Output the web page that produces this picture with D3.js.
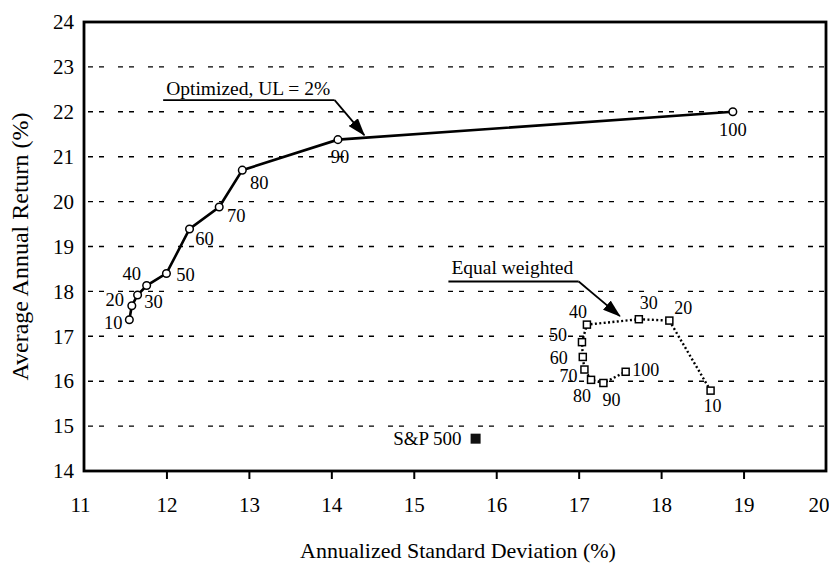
<!DOCTYPE html>
<html>
<head>
<meta charset="utf-8">
<script src="https://cdn.jsdelivr.net/npm/d3@7"></script>
<style>
  html, body { margin: 0; padding: 0; background: #fff; }
  svg { display: block; }
  text { font-family: "Liberation Serif", "DejaVu Serif", serif; fill: #000; }
</style>
</head>
<body>
<svg id="chart" width="829" height="569"></svg>
<script>
// Tick values for both axes
const xTicks = [11, 12, 13, 14, 15, 16, 17, 18, 19, 20];
const yTicks = [14, 15, 16, 17, 18, 19, 20, 21, 22, 23, 24];
const gridValues = [15, 16, 17, 18, 19, 20, 21, 22, 23];

// Portfolio labels (number of stocks held)
const portfolioLabels = [10, 20, 30, 40, 50, 60, 70, 80, 90, 100];

// Optimized portfolios, UL = 2%
const optSD     = [11.55, 11.58, 11.65, 11.76, 12.00, 12.28, 12.64, 12.92, 14.08, 18.87];
const optReturn = [17.37, 17.68, 17.92, 18.13, 18.40, 19.39, 19.88, 20.70, 21.38, 22.00];

// Equal weighted portfolios
const eqSD     = [18.60, 18.10, 17.73, 17.10, 17.04, 17.05, 17.07, 17.15, 17.30, 17.57];
const eqReturn = [15.79, 17.35, 17.38, 17.26, 16.87, 16.54, 16.26, 16.03, 15.96, 16.21];

// Benchmark
const spLabel = "S&P 500";
const spSD = 15.75;
const spReturn = 14.72;

// Label placement around each marker, in pixels
const optLabelOffset = [[-16, 3], [-17, -6], [16, 7], [-15, -12], [19, 2], [15, 10], [17, 9], [17, 13], [2, 17], [0, 18]];
const eqLabelOffset  = [[2, 15], [14, -13], [10, -16], [-9, -13], [-24, -7], [-24, 1], [-16, 6], [-9, 16], [8, 17], [20, -2]];

// Callouts (in data units)
const optNote = { text: "Optimized, UL = 2%", from: [11.96, 22.26], to: [14.04, 22.26], tip: [14.40, 21.48] };
const eqNote  = { text: "Equal weighted", from: [15.42, 18.22], to: [17.00, 18.22], tip: [17.50, 17.45] };

const svg = d3.select("#chart");
const frame = { left: 84, right: 826, top: 22, bottom: 471 };

const x = d3.scaleLinear().domain([11, 20]).range([frame.left, frame.right]);
const y = d3.scaleLinear().domain([14, 24]).range([frame.bottom, frame.top]);

// Arrowhead
svg.append("defs").append("marker")
  .attr("id", "arrow")
  .attr("markerUnits", "userSpaceOnUse")
  .attr("markerWidth", 18).attr("markerHeight", 12)
  .attr("refX", 17).attr("refY", 6)
  .attr("orient", "auto")
  .append("path").attr("d", "M0,0 L18,6 L0,12 Z").attr("fill", "#000");

// Dashed horizontal gridlines
svg.append("g").selectAll("line").data(gridValues).join("line")
  .attr("x1", frame.left + 4).attr("x2", frame.right - 2)
  .attr("y1", d => y(d)).attr("y2", d => y(d))
  .attr("stroke", "#000").attr("stroke-width", 1.4)
  .attr("stroke-dasharray", "5,6,5,14");

// X axis
const xAxis = svg.append("g")
  .attr("transform", `translate(0,${frame.bottom})`)
  .call(d3.axisBottom(x).tickValues(xTicks).tickSize(8).tickPadding(18).tickFormat(d3.format("d")));
xAxis.select(".domain").remove();
xAxis.selectAll(".tick line").attr("stroke", "#000").attr("stroke-width", 2)
  .filter(d => d === 11 || d === 20).remove();
xAxis.selectAll(".tick text")
  .style("font-size", "21px")
  .attr("font-family", null)
  .attr("text-anchor", d => d === 20 ? "end" : "middle")
  .attr("dx", d => d === 20 ? 3 : (d === 11 ? -4 : 0));

// Y axis
const yAxis = svg.append("g")
  .attr("transform", `translate(${frame.left},0)`)
  .call(d3.axisLeft(y).tickValues(yTicks).tickSize(0).tickPadding(10).tickFormat(d3.format("d")));
yAxis.select(".domain").remove();
yAxis.selectAll(".tick text").style("font-size", "21px").attr("font-family", null);

// Plot frame
svg.append("rect")
  .attr("x", frame.left).attr("y", frame.top)
  .attr("width", frame.right - frame.left).attr("height", frame.bottom - frame.top)
  .attr("fill", "none").attr("stroke", "#000").attr("stroke-width", 2.8);

// Axis titles
svg.append("text")
  .attr("x", (frame.left + frame.right) / 2 + 3).attr("y", 558)
  .attr("text-anchor", "middle").style("font-size", "22px")
  .text("Annualized Standard Deviation (%)");
svg.append("text")
  .attr("transform", `translate(28,${(frame.top + frame.bottom) / 2}) rotate(-90)`)
  .attr("text-anchor", "middle").style("font-size", "24px")
  .text("Average Annual Return (%)");

// Optimized line and markers
const optPts = optSD.map((v, i) => ({ sd: v, ret: optReturn[i], label: portfolioLabels[i], off: optLabelOffset[i] }));
const line = d3.line().x(d => x(d.sd)).y(d => y(d.ret));
svg.append("path").datum(optPts).attr("d", line)
  .attr("fill", "none").attr("stroke", "#000").attr("stroke-width", 2.6);
svg.append("g").selectAll("circle").data(optPts).join("circle")
  .attr("cx", d => x(d.sd)).attr("cy", d => y(d.ret)).attr("r", 3.8)
  .attr("fill", "#fff").attr("stroke", "#000").attr("stroke-width", 1.5);
svg.append("g").selectAll("text").data(optPts).join("text")
  .attr("x", d => x(d.sd) + d.off[0]).attr("y", d => y(d.ret) + d.off[1])
  .attr("text-anchor", "middle").attr("dominant-baseline", "central")
  .style("font-size", "18.5px").text(d => d.label);

// Equal weighted line and markers
const eqPts = eqSD.map((v, i) => ({ sd: v, ret: eqReturn[i], label: portfolioLabels[i], off: eqLabelOffset[i] }));
svg.append("path").datum(eqPts).attr("d", line)
  .attr("fill", "none").attr("stroke", "#000").attr("stroke-width", 2.4)
  .attr("stroke-dasharray", "2,2.4");
const sq = 7;
svg.append("g").selectAll("rect").data(eqPts).join("rect")
  .attr("x", d => x(d.sd) - sq / 2).attr("y", d => y(d.ret) - sq / 2)
  .attr("width", sq).attr("height", sq)
  .attr("fill", "#fff").attr("stroke", "#000").attr("stroke-width", 1.5);
svg.append("g").selectAll("text").data(eqPts).join("text")
  .attr("x", d => x(d.sd) + d.off[0]).attr("y", d => y(d.ret) + d.off[1])
  .attr("text-anchor", "middle").attr("dominant-baseline", "central")
  .style("font-size", "18px").text(d => d.label);

// S&P 500 benchmark
const spSize = 10;
svg.append("rect")
  .attr("x", x(spSD) - spSize / 2).attr("y", y(spReturn) - spSize / 2)
  .attr("width", spSize).attr("height", spSize).attr("fill", "#111");
svg.append("text")
  .attr("x", x(spSD) - 14).attr("y", y(spReturn))
  .attr("text-anchor", "end").attr("dominant-baseline", "central")
  .style("font-size", "19px").text(spLabel);

// Callouts: underlined caption with an arrow to the curve
function callout(note, baselineGap) {
  const g = svg.append("g");
  g.append("text")
    .attr("x", x(note.from[0]) + 3).attr("y", y(note.from[1]) - baselineGap)
    .style("font-size", "19.5px").text(note.text);
  g.append("line")
    .attr("x1", x(note.from[0])).attr("y1", y(note.from[1]))
    .attr("x2", x(note.to[0])).attr("y2", y(note.to[1]))
    .attr("stroke", "#000").attr("stroke-width", 1.8);
  g.append("line")
    .attr("x1", x(note.to[0])).attr("y1", y(note.to[1]))
    .attr("x2", x(note.tip[0])).attr("y2", y(note.tip[1]))
    .attr("stroke", "#000").attr("stroke-width", 1.8)
    .attr("marker-end", "url(#arrow)");
}
callout(optNote, 5);
callout(eqNote, 8);
</script>
</body>
</html>
